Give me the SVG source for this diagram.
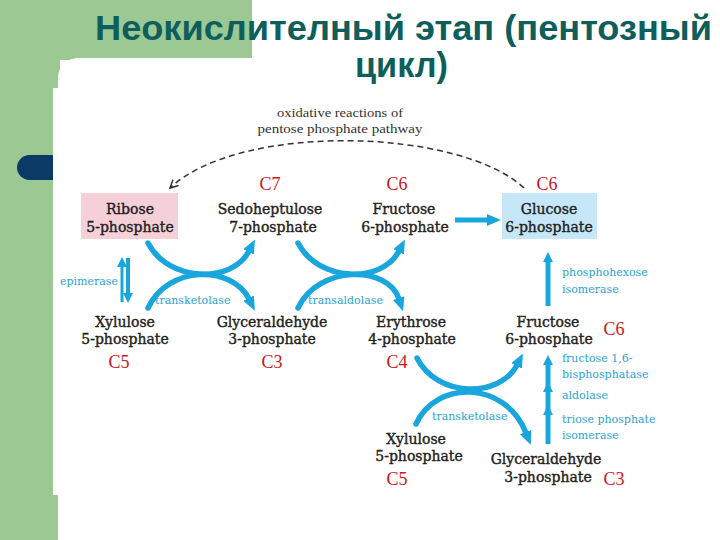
<svg xmlns="http://www.w3.org/2000/svg" width="720" height="540" viewBox="0 0 720 540">
<style>
.title{font-family:"Liberation Sans",Arial,sans-serif;font-weight:bold;font-size:35px;fill:#0e5f5c}
.lbl{font-family:"DejaVu Serif",serif;font-size:14px;fill:#1f1f1f;stroke:#1f1f1f;stroke-width:0.4;text-anchor:middle}
.c{font-family:"Liberation Serif",serif;font-size:18px;fill:#c8161d;text-anchor:middle}
.enz{font-family:"DejaVu Serif",serif;font-size:11px;fill:#2aa3d6}
.ox{font-family:"Liberation Serif",serif;font-size:12.5px;fill:#333;text-anchor:middle}
.arc{fill:none;stroke:#19a6dc;stroke-width:5.5;stroke-linecap:round}
.sh{fill:none;stroke:#19a6dc;stroke-width:5}
</style>
<defs>
<marker id="ah" viewBox="0 -6 14 12" refX="1" refY="0" markerWidth="14" markerHeight="12" markerUnits="userSpaceOnUse" orient="auto">
<path d="M0,-6 L14,0 L0,6 z" fill="#19a6dc"/>
</marker>
<marker id="ahs" viewBox="0 -5 10 10" refX="1" refY="0" markerWidth="10" markerHeight="10" markerUnits="userSpaceOnUse" orient="auto">
<path d="M0,-5 L10,0 L0,5 z" fill="#19a6dc"/>
</marker>
<marker id="dh" viewBox="0 -5 9 10" refX="8" refY="0" markerWidth="9" markerHeight="10" markerUnits="userSpaceOnUse" orient="auto">
<path d="M0,-4 L8,0 L0,4" fill="none" stroke="#333" stroke-width="1.5"/>
</marker>
</defs>
<g id="background">
<rect x="0" y="0" width="720" height="540" fill="#ffffff"/>
<rect x="0" y="0" width="252" height="60" fill="#9cc893"/>
<rect x="0" y="0" width="60" height="540" fill="#9cc893"/>
<rect x="58" y="58" width="700" height="520" rx="20" fill="#ffffff"/>
<rect x="17" y="155" width="60" height="25" rx="12.5" fill="#0b3a66"/>
<rect x="53" y="88" width="620" height="407" fill="#ffffff"/>
</g>
<g id="title">
<text class="title" x="95" y="40" textLength="617" lengthAdjust="spacingAndGlyphs">Неокислителный этап (пентозный</text>
<text class="title" x="355" y="77" textLength="93" lengthAdjust="spacingAndGlyphs">цикл)</text>
</g>
<g id="connectors">
<path d="M524,188 C460,128 240,122 170,188" fill="none" stroke="#333" stroke-width="1.5" stroke-dasharray="6 4" marker-end="url(#dh)"/>
<line class="sh" x1="455" y1="220" x2="488" y2="220" marker-end="url(#ah)"/>
<line class="sh" x1="548" y1="306" x2="548" y2="261" marker-end="url(#ahs)"/>
<line class="sh" x1="548" y1="444" x2="548" y2="364" marker-end="url(#ahs)"/>
<path d="M543,392 L548,382 L553,392 z" fill="#19a6dc"/>
<path d="M543,415 L548,405 L553,415 z" fill="#19a6dc"/>
<line x1="122" y1="302" x2="122" y2="266" stroke="#19a6dc" stroke-width="3" marker-end="url(#ahs)"/>
<line x1="128" y1="258" x2="128" y2="294" stroke="#19a6dc" stroke-width="4" marker-end="url(#ahs)"/>
<path class="arc" d="M148,243 C168,282 232,284 249,251" marker-end="url(#ah)"/>
<path class="arc" d="M148,308 C168,265 232,265 249,299" marker-end="url(#ah)"/>
<path class="arc" d="M298,243 C318,282 382,284 399,251" marker-end="url(#ah)"/>
<path class="arc" d="M298,308 C318,265 388,265 399,299" marker-end="url(#ah)"/>
<path class="arc" d="M417,358 C437,398 500,398 517,365" marker-end="url(#ah)"/>
<path class="arc" d="M416,424 C436,380 505,380 526,433" marker-end="url(#ah)"/>
</g>
<g id="oxidative">
<text class="ox" x="340" y="117" textLength="126" lengthAdjust="spacingAndGlyphs">oxidative reactions of</text>
<text class="ox" x="340" y="133" textLength="165" lengthAdjust="spacingAndGlyphs">pentose phosphate pathway</text>
</g>
<g id="ribose">
<rect x="81" y="193" width="97" height="46" fill="#f6d0d8"/>
<text class="lbl" x="130" y="214">Ribose</text>
<text class="lbl" x="130" y="232">5-phosphate</text>
</g>
<g id="sedoheptulose">
<text class="c" x="270" y="190">C7</text>
<text class="lbl" x="270" y="214">Sedoheptulose</text>
<text class="lbl" x="273" y="232">7-phosphate</text>
</g>
<g id="fructose-top">
<text class="c" x="397" y="190">C6</text>
<text class="lbl" x="404" y="214">Fructose</text>
<text class="lbl" x="405" y="232">6-phosphate</text>
</g>
<g id="glucose">
<text class="c" x="547" y="190">C6</text>
<rect x="502" y="193" width="95" height="46" fill="#c6e7f8"/>
<text class="lbl" x="549" y="214">Glucose</text>
<text class="lbl" x="549" y="232">6-phosphate</text>
</g>
<g id="xylulose-1">
<text class="lbl" x="125" y="327">Xylulose</text>
<text class="lbl" x="125" y="344">5-phosphate</text>
<text class="c" x="119" y="368">C5</text>
</g>
<g id="glyceraldehyde-1">
<text class="lbl" x="272" y="327">Glyceraldehyde</text>
<text class="lbl" x="272" y="344">3-phosphate</text>
<text class="c" x="272" y="368">C3</text>
</g>
<g id="erythrose">
<text class="lbl" x="411" y="327">Erythrose</text>
<text class="lbl" x="412" y="344">4-phosphate</text>
<text class="c" x="397" y="368">C4</text>
</g>
<g id="fructose-right">
<text class="lbl" x="548" y="327">Fructose</text>
<text class="lbl" x="549" y="344">6-phosphate</text>
<text class="c" x="614" y="335">C6</text>
</g>
<g id="xylulose-2">
<text class="lbl" x="416" y="444">Xylulose</text>
<text class="lbl" x="419" y="461">5-phosphate</text>
<text class="c" x="397" y="485">C5</text>
</g>
<g id="glyceraldehyde-2">
<text class="lbl" x="546" y="464">Glyceraldehyde</text>
<text class="lbl" x="548" y="482">3-phosphate</text>
<text class="c" x="614" y="485">C3</text>
</g>
<g id="enzymes">
<text class="enz" x="60" y="285">epimerase</text>
<text class="enz" x="155" y="304">transketolase</text>
<text class="enz" x="308" y="304">transaldolase</text>
<text class="enz" x="432" y="420">transketolase</text>
<text class="enz" x="562" y="276">phosphohexose</text>
<text class="enz" x="562" y="293">isomerase</text>
<text class="enz" x="562" y="362">fructose 1,6-</text>
<text class="enz" x="562" y="378">bisphosphatase</text>
<text class="enz" x="562" y="399">aldolase</text>
<text class="enz" x="562" y="423">triose phosphate</text>
<text class="enz" x="562" y="439">isomerase</text>
</g>
</svg>
